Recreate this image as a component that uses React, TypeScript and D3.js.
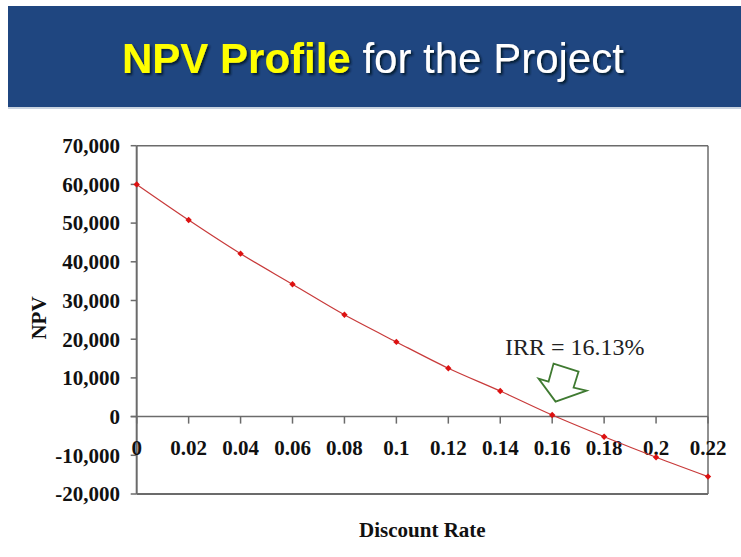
import React from "react";
import * as d3 from "d3";

const rates: number[] = [0, 0.02, 0.04, 0.06, 0.08, 0.1, 0.12, 0.14, 0.16, 0.18, 0.2, 0.22];
const npvValues: number[] = [60000, 50800, 42100, 34200, 26300, 19300, 12500, 6600, 400, -5200, -10500, -15500];
const yTicks: number[] = [70000, 60000, 50000, 40000, 30000, 20000, 10000, 0, -10000, -20000];
const xTickLabels: string[] = ["0", "0.02", "0.04", "0.06", "0.08", "0.1", "0.12", "0.14", "0.16", "0.18", "0.2", "0.22"];
const titleBold = "NPV Profile";
const titleRest = " for the Project";
const irrLabel = "IRR = 16.13%";
const irrRate = 0.1613;

export default function App() {
  const W = 741, H = 557;
  const left = 136.7, right = 708, top = 145.7, bottom = 494;
  const x = d3.scaleLinear().domain([0, 0.22]).range([left, right]);
  const y = d3.scaleLinear().domain([-20000, 70000]).range([bottom, top]);
  const fmt = (v: number) => d3.format(",")(v).replace("\u2212", "-");
  const line = d3
    .line<number>()
    .x((_, i) => x(rates[i]))
    .y((d) => y(d))
    .curve(d3.curveCatmullRom);
  const serif = "'Liberation Serif', 'Times New Roman', serif";
  const sans = "'Liberation Sans', Arial, sans-serif";
  const axisColor = "#6b6b6b";

  const ax = x(irrRate);
  const ay = y(0);
  const arrowPts: [number, number][] = [
    [ax + 0, ay - 15],
    [ax - 17, ay - 38],
    [ax - 7, ay - 35],
    [ax - 2, ay - 53],
    [ax + 23, ay - 45],
    [ax + 18, ay - 29],
    [ax + 31, ay - 26],
  ];

  return (
    <svg
      width={W}
      height={H}
      style={{ position: "absolute", left: 0, top: 0, background: "#fff" }}
    >
      <defs>
        <filter id="tshadow" x="-10%" y="-30%" width="120%" height="160%">
          <feDropShadow dx={2} dy={2} stdDeviation={0.8} floodColor="#06122a" floodOpacity={0.9} />
        </filter>
      </defs>
      <rect x={8} y={6} width={W - 8} height={101} fill="#1f4680" />
      <line x1={8} x2={W} y1={108} y2={108} stroke="#c9d3e0" strokeWidth={2} />
      <text x={122} y={73} fontFamily={sans} fontSize={42} filter="url(#tshadow)">
        <tspan fontWeight="bold" fill="#ffff00">{titleBold}</tspan>
        <tspan fill="#ffffff">{titleRest}</tspan>
      </text>

      {/* frame */}
      <line x1={left} x2={right} y1={top} y2={top} stroke={axisColor} strokeWidth={1.5} />
      <line x1={right} x2={right} y1={top} y2={bottom} stroke={axisColor} strokeWidth={1.5} />
      <line x1={left} x2={right} y1={bottom} y2={bottom} stroke={axisColor} strokeWidth={2} />
      <line x1={left} x2={left} y1={top} y2={bottom} stroke={axisColor} strokeWidth={2} />

      {/* y ticks */}
      {yTicks.map((t) => (
        <g key={t}>
          <line x1={left - 6} x2={left} y1={y(t)} y2={y(t)} stroke={axisColor} strokeWidth={1.5} />
          <text
            x={120}
            y={y(t)}
            dy="0.35em"
            textAnchor="end"
            fontFamily={serif}
            fontWeight="bold"
            fontSize={21}
            fill="#111"
          >
            {fmt(t)}
          </text>
        </g>
      ))}

      {/* x axis at zero */}
      <line x1={left - 6} x2={right} y1={y(0)} y2={y(0)} stroke={axisColor} strokeWidth={1.5} />
      {rates.map((r, i) => (
        <g key={r}>
          <line x1={x(r)} x2={x(r)} y1={y(0)} y2={y(0) + 7} stroke={axisColor} strokeWidth={1.5} />
          <text
            x={x(r)}
            y={455}
            textAnchor="middle"
            fontFamily={serif}
            fontWeight="bold"
            fontSize={21}
            fill="#111"
          >
            {xTickLabels[i]}
          </text>
        </g>
      ))}

      {/* series */}
      <path d={line(npvValues) || ""} fill="none" stroke="#c83a3a" strokeWidth={1.2} />
      {npvValues.map((v, i) => {
        const cx = x(rates[i]);
        const cy = y(v);
        const s = 3.2;
        return (
          <path
            key={i}
            d={`M${cx},${cy - s}L${cx + s},${cy}L${cx},${cy + s}L${cx - s},${cy}Z`}
            fill="#dd1111"
          />
        );
      })}

      {/* annotation */}
      <text x={505} y={355} fontFamily={serif} fontSize={24} fill="#222">
        {irrLabel}
      </text>
      <polygon
        points={arrowPts.map((p) => p.join(",")).join(" ")}
        fill="#fff"
        stroke="#3f7a31"
        strokeWidth={1.8}
        strokeLinejoin="miter"
      />

      {/* axis titles */}
      <text
        transform={`translate(46,318) rotate(-90)`}
        textAnchor="middle"
        fontFamily={serif}
        fontWeight="bold"
        fontSize={21}
        fill="#111"
      >
        NPV
      </text>
      <text
        x={(left + right) / 2}
        y={537}
        textAnchor="middle"
        fontFamily={serif}
        fontWeight="bold"
        fontSize={21}
        fill="#111"
      >
        Discount Rate
      </text>
    </svg>
  );
}
